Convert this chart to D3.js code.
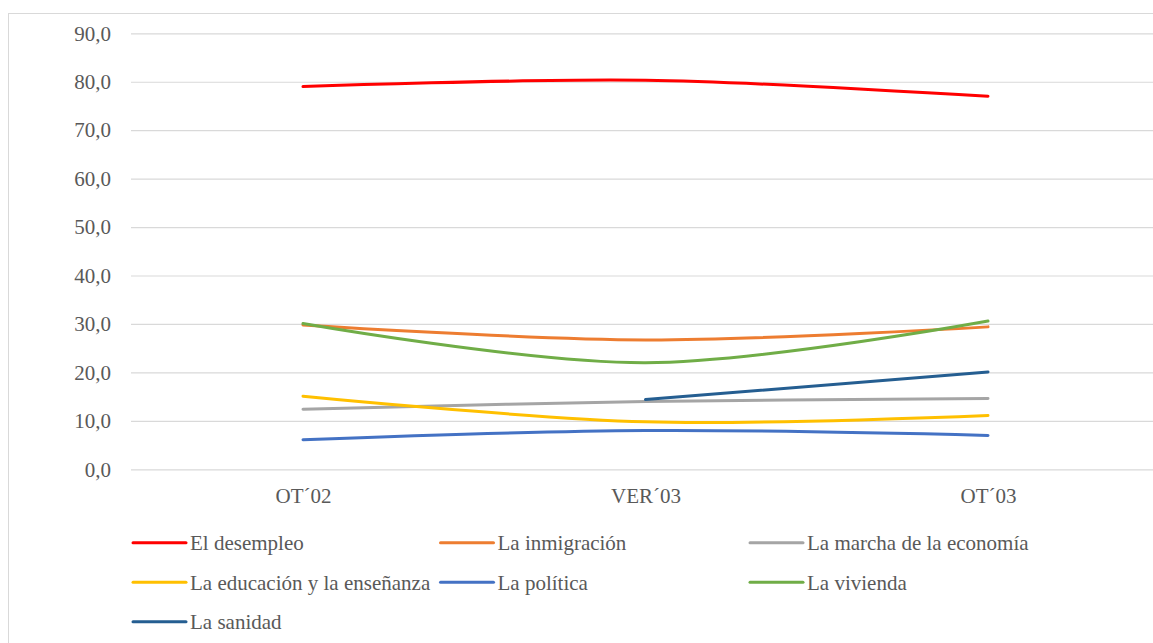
<!DOCTYPE html>
<html>
<head>
<meta charset="utf-8">
<script src="https://cdn.jsdelivr.net/npm/d3@7"></script>
<style>
  html, body { margin: 0; padding: 0; background: #fff; }
  svg { display: block; }
</style>
</head>
<body>
<svg id="chart" width="1153" height="643"></svg>
<script>
// Survey waves
const categories = ["OT\u00B402", "VER\u00B403", "OT\u00B403"];

// Share of respondents naming each issue (%)
const desempleo   = [79.0, 80.3, 77.0];
const inmigracion = [29.8, 26.7, 29.4];
const economia    = [12.4, 14.0, 14.6];
const educacion   = [15.1,  9.8, 11.1];
const politica    = [ 6.1,  8.0,  7.0];
const vivienda    = [30.1, 22.0, 30.6];
const sanidad     = [null, 14.4, 20.1];

const seriesNames = [
  "El desempleo", "La inmigración", "La marcha de la economía",
  "La educación y la enseñanza", "La política", "La vivienda", "La sanidad"
];
const seriesValues = [desempleo, inmigracion, economia, educacion, politica, vivienda, sanidad];
const seriesColors = ["#FF0000", "#ED7D31", "#A5A5A5", "#FFC000", "#4472C4", "#70AD47", "#255E91"];

const yTicks = [0, 10, 20, 30, 40, 50, 60, 70, 80, 90];

const svg = d3.select("#chart");
const serif = "'Liberation Serif', 'DejaVu Serif', serif";
const fontSize = 21;
const textColor = "#595959";

// chart frame
svg.append("rect")
  .attr("x", 8.5).attr("y", 13.5)
  .attr("width", 1200).attr("height", 700)
  .attr("fill", "none").attr("stroke", "#d9d9d9").attr("stroke-width", 1);

const plot = { left: 131, right: 1159, top: 33.3, bottom: 469.3 };

const x = d3.scalePoint().domain(categories).range([303, 988]);
const y = d3.scaleLinear().domain([0, 90]).range([plot.bottom, plot.top]);

// value axis with horizontal gridlines
const yAxis = d3.axisLeft(y)
  .tickValues(yTicks)
  .tickSize(-(plot.right - plot.left))
  .tickPadding(20)
  .tickFormat(d => d3.format(".1f")(d).replace(".", ","));

const gy = svg.append("g")
  .attr("transform", `translate(${plot.left},0)`)
  .call(yAxis)
  .attr("font-family", serif)
  .attr("font-size", fontSize);
gy.select(".domain").remove();
gy.selectAll(".tick line").attr("stroke", "#d9d9d9").attr("stroke-width", 1.2);
gy.selectAll(".tick text").attr("fill", textColor);

// category labels
const xAxis = d3.axisBottom(x).tickSize(0).tickPadding(19);
const gx = svg.append("g")
  .attr("transform", `translate(0,${plot.bottom})`)
  .call(xAxis)
  .attr("font-family", serif)
  .attr("font-size", fontSize);
gx.select(".domain").remove();
gx.selectAll(".tick text").attr("fill", textColor);

// smoothed series lines
const line = d3.line()
  .defined(d => d.v != null)
  .x(d => x(d.c))
  .y(d => y(d.v))
  .curve(d3.curveCardinal.tension(0));

seriesValues.forEach((vals, i) => {
  const pts = categories.map((c, j) => ({ c, v: vals[j] }));
  svg.append("path")
    .datum(pts)
    .attr("d", line)
    .attr("fill", "none")
    .attr("stroke", seriesColors[i])
    .attr("stroke-width", 3)
    .attr("stroke-linecap", "round")
    .attr("stroke-linejoin", "round");
});

// legend: three columns, wrapping rows
const legCols = [133, 440.5, 750];
const legRows = [542.7, 582.3, 621.7];
seriesNames.forEach((name, i) => {
  const lx = legCols[i % 3];
  const ly = legRows[Math.floor(i / 3)];
  const g = svg.append("g").attr("transform", `translate(${lx},${ly})`);
  g.append("line")
    .attr("x1", 0).attr("x2", 53)
    .attr("y1", 0).attr("y2", 0)
    .attr("stroke", seriesColors[i])
    .attr("stroke-width", 3)
    .attr("stroke-linecap", "round");
  g.append("text")
    .attr("x", 57)
    .attr("dy", "0.35em")
    .attr("font-family", serif)
    .attr("font-size", fontSize)
    .attr("fill", textColor)
    .text(name);
});
</script>
</body>
</html>
